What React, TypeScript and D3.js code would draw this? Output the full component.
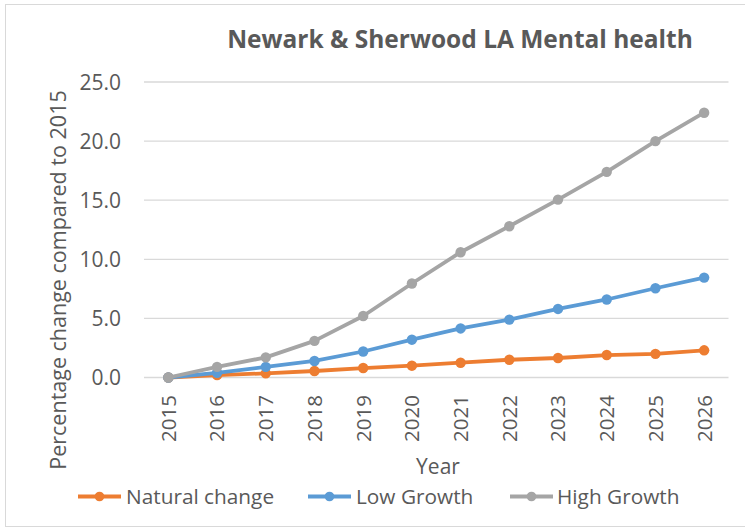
import React from "react";
import * as d3 from "d3";

const years = ["2015","2016","2017","2018","2019","2020","2021","2022","2023","2024","2025","2026"];
const naturalChange = [0, 0.2, 0.35, 0.55, 0.8, 1.0, 1.25, 1.5, 1.65, 1.9, 2.0, 2.3];
const lowGrowth = [0, 0.4, 0.9, 1.4, 2.2, 3.2, 4.15, 4.9, 5.8, 6.6, 7.55, 8.45];
const highGrowth = [0, 0.9, 1.7, 3.1, 5.2, 7.95, 10.6, 12.8, 15.05, 17.4, 20.0, 22.4];
const yTicks = [0, 5, 10, 15, 20, 25];
const seriesNames = ["Natural change", "Low Growth", "High Growth"];
const seriesColors = ["#ED7D31", "#5B9BD5", "#A5A5A5"];
const seriesData = [naturalChange, lowGrowth, highGrowth];

const FONT = "'Open Sans', 'Liberation Sans', sans-serif";
const TXT = "#595959";

export default function App() {
  const W = 745, H = 532;
  const left = 144, right = 728.5, top = 82, bottom = 377.5;
  const x = d3.scaleBand<string>().domain(years).range([left, right]);
  const y = d3.scaleLinear().domain([0, 25]).range([bottom, top]);
  const cx = (i: number) => (x(years[i]) as number) + x.bandwidth() / 2;
  const line = d3.line<number>().x((_, i) => cx(i)).y((d) => y(d));

  const legendItems = [
    { lx: 78, tx: 126 },
    { lx: 308, tx: 356 },
    { lx: 510, tx: 557 },
  ];

  return (
    <svg width={W} height={H} style={{ position: "absolute", left: 0, top: 0, background: "#fff" }} fontFamily={FONT}>
      <rect x={5.5} y={4.5} width={760} height={522} fill="#fff" stroke="#D9D9D9" strokeWidth={1} />
      <text x={460} y={48} textAnchor="middle" fontSize={24.5} fontWeight="bold" fill={TXT}>
        Newark &amp; Sherwood LA Mental health
      </text>
      {yTicks.map((t) => (
        <g key={t}>
          <line x1={left} x2={right} y1={y(t)} y2={y(t)} stroke="#D9D9D9" strokeWidth={1.3} />
          <text x={121} y={y(t)} dy="0.36em" textAnchor="end" fontSize={21} fill={TXT}>
            {d3.format(".1f")(t)}
          </text>
        </g>
      ))}
      {years.map((yr, i) => (
        <text key={yr} transform={`translate(${cx(i)},395) rotate(-90)`} dy="0.36em" textAnchor="end" fontSize={20.5} fill={TXT}>
          {yr}
        </text>
      ))}
      <text transform="translate(58,280) rotate(-90)" dy="0.36em" textAnchor="middle" fontSize={21.5} fill={TXT}>
        Percentage change compared to 2015
      </text>
      <text x={438} y={474} textAnchor="middle" fontSize={21} fill={TXT}>Year</text>
      {seriesData.map((s, k) => (
        <g key={k}>
          <path d={line(s) as string} fill="none" stroke={seriesColors[k]} strokeWidth={3.8} strokeLinejoin="round" />
          {s.map((v, i) => (
            <circle key={i} cx={cx(i)} cy={y(v)} r={5.2} fill={seriesColors[k]} />
          ))}
        </g>
      ))}
      {seriesNames.map((n, k) => (
        <g key={n}>
          <line x1={legendItems[k].lx} x2={legendItems[k].lx + 43} y1={496.5} y2={496.5} stroke={seriesColors[k]} strokeWidth={3.8} />
          <circle cx={legendItems[k].lx + 21.5} cy={496.5} r={4.8} fill={seriesColors[k]} />
          <text x={legendItems[k].tx} y={496.5} dy="0.36em" fontSize={20.8} fill={TXT}>{n}</text>
        </g>
      ))}
    </svg>
  );
}
